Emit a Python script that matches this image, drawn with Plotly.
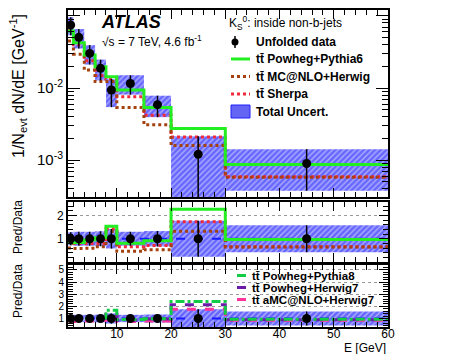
import plotly.graph_objects as go
from plotly.subplots import make_subplots

# ── Data ─────────────────────────────────────────────────────────────────────
edges = [1, 2, 4, 6, 8, 10, 15, 20, 30, 60]
data = [0.075, 0.0506, 0.0303, 0.0188, 0.0094, 0.0116, 0.0059, 0.00121, 0.00090]
unc_rel = [0.28, 0.30, 0.30, 0.32, 0.42, 0.30, 0.33, 0.77, 0.58]

pow_py6 = [0.062, 0.0426, 0.0288, 0.0197, 0.0144, 0.0094, 0.0054, 0.00275, 0.00087]
mcnlo_hw = [0.045, 0.0294, 0.0178, 0.0123, 0.0123, 0.0054, 0.0031, 0.0016, 0.00058]
sherpa = [0.064, 0.040, 0.024, 0.0149, 0.0134, 0.0076, 0.0042, 0.0021, 0.00059]

# newer generators, only shown as ratio to data
r_pow_py8 = [0.92, 1.0, 1.0, 1.05, 1.68, 0.92, 0.97, 2.40, 0.93]
r_pow_hw7 = [0.87, 0.95, 0.95, 1.0, 1.35, 0.86, 0.95, 2.12, 0.90]
r_amc_hw7 = [0.80, 0.76, 0.80, 0.85, 1.28, 0.76, 0.80, 1.75, 0.86]

log_ticks = [1e-3, 1e-2, 1e-1]
log_labels = ["10<sup>-3</sup>", "10<sup>-2</sup>", "10<sup>-1</sup>"]

FONT = "Liberation Sans"
TT = "tt\u0304"

centers = [(a + b) / 2 for a, b in zip(edges[:-1], edges[1:])]
widths = [b - a for a, b in zip(edges[:-1], edges[1:])]


def step(vals):
    return list(vals) + [vals[-1]]


def band(fig, lo, hi, row):
    fig.add_trace(go.Bar(
        x=centers, y=[h - l for l, h in zip(lo, hi)], base=lo, width=widths,
        marker=dict(color="#aaaaff", line_width=0,
                    pattern=dict(shape="/", fgcolor="#2020ff", bgcolor="#aeaeff",
                                 size=4, solidity=0.65)),
        showlegend=False, hoverinfo="skip"), row=row, col=1)


def step_line(fig, vals, color, dash, row, width=3):
    fig.add_trace(go.Scatter(
        x=edges, y=step(vals), mode="lines", line_shape="hv",
        line=dict(color=color, dash=dash, width=width), showlegend=False), row=row, col=1)


def points(fig, vals, errs, row):
    fig.add_trace(go.Scatter(
        x=centers, y=vals, mode="markers",
        marker=dict(color="black", size=9),
        error_y=dict(type="data", array=errs, color="black", thickness=1.5, width=0),
        showlegend=False), row=row, col=1)


fig = make_subplots(rows=3, cols=1, shared_xaxes=True)

# ── Top panel ────────────────────────────────────────────────────────────────
abs_err = [d * r for d, r in zip(data, unc_rel)]
band(fig, [d - e for d, e in zip(data, abs_err)], [d + e for d, e in zip(data, abs_err)], 1)
step_line(fig, sherpa, "#f02a3a", "dot", 1)
step_line(fig, mcnlo_hw, "#a3420f", "dot", 1)
step_line(fig, pow_py6, "#22ee22", "solid", 1)
points(fig, data, abs_err, 1)

# ── Middle ratio panel ───────────────────────────────────────────────────────
ones = [1.0] * len(data)
band(fig, [1 - r for r in unc_rel], [1 + r for r in unc_rel], 2)
step_line(fig, ones, "#1a1aff", "dash", 2, width=2)
step_line(fig, [s / d for s, d in zip(sherpa, data)], "#f02a3a", "dot", 2)
step_line(fig, [m / d for m, d in zip(mcnlo_hw, data)], "#a3420f", "dot", 2)
step_line(fig, [p / d for p, d in zip(pow_py6, data)], "#22ee22", "solid", 2)
points(fig, ones, unc_rel, 2)

# ── Bottom ratio panel ───────────────────────────────────────────────────────
band(fig, [1 - r for r in unc_rel], [1 + r for r in unc_rel], 3)
step_line(fig, ones, "#1a1aff", "dash", 3, width=2)
step_line(fig, r_amc_hw7, "#ff3399", "dash", 3)
step_line(fig, r_pow_hw7, "#6a1ba8", "dash", 3)
step_line(fig, r_pow_py8, "#11cc44", "dashdot", 3)
points(fig, ones, unc_rel, 3)

# ── Axes ─────────────────────────────────────────────────────────────────────
# page coordinates of the frame; the page body adds an 8px offset
OFF = 8
L, R, T, B = 68, 388, 10, 327
W, H = R - L, B - T


def px(x):
    return (x - L) / W


def py(y):
    return (B - y) / H


frame = dict(showline=True, linecolor="black", linewidth=2, mirror="ticks",
             ticks="inside", tickcolor="black", zeroline=False, automargin=False)

xcommon = dict(frame, range=[1, 60], tickvals=[10, 20, 30, 40, 50, 60], ticklen=9,
               tickwidth=1, showgrid=False, ticklabelstandoff=-5,
               minor=dict(dtick=2, tick0=0, ticks="inside", ticklen=5, tickcolor="black"),
               tickfont=dict(family=FONT, size=12, color="black"))
fig.update_xaxes(**xcommon)
fig.update_xaxes(showticklabels=False, row=1, col=1)
fig.update_xaxes(showticklabels=False, row=2, col=1)

minor_log = [k * 10 ** e for e in (-4, -3, -2, -1) for k in range(2, 10)]
fig.update_yaxes(frame, type="log", range=[-3.51, -0.917], row=1, col=1,
                 tickvals=log_ticks, ticktext=log_labels, ticklen=12,
                 minor=dict(tickvals=minor_log, ticks="inside", ticklen=6, tickcolor="black"),
                 showgrid=False, domain=[py(197), 1],
                 tickfont=dict(family=FONT, size=15, color="black"))
fig.update_yaxes(frame, range=[0, 2.58], row=2, col=1, tickvals=[1, 2], ticklen=9,
                 minor=dict(dtick=0.2, ticks="inside", ticklen=5, tickcolor="black"),
                 showgrid=True, gridcolor="#9a9a9a", griddash="dot", gridwidth=1,
                 domain=[py(262), py(202)],
                 tickfont=dict(family=FONT, size=12, color="black"))
fig.update_yaxes(frame, range=[0.3, 5.4], row=3, col=1, tickvals=[1, 2, 3, 4, 5], ticklen=9,
                 minor=dict(dtick=0.2, ticks="inside", ticklen=5, tickcolor="black"),
                 showgrid=True, gridcolor="#9a9a9a", griddash="dot", gridwidth=1,
                 domain=[0, py(265)],
                 tickfont=dict(family=FONT, size=10, color="black"))

# ── Texts ────────────────────────────────────────────────────────────────────
ann = []


def text(x, y, s, size=12, anchor="left", angle=0, bold=False):
    ann.append(dict(x=px(x), y=py(y), xref="paper", yref="paper", text=s, showarrow=False,
                    xanchor=anchor, yanchor="middle", textangle=angle, borderpad=0,
                    font=dict(family=FONT, size=size, color="black",
                              weight="bold" if bold else "normal")))


text(18, 86, "1/N<sub>evt</sub> dN/dE [GeV<sup>-1</sup>]", size=16, anchor="center", angle=-90)
text(18, 227, "Pred/Data", size=12, anchor="center", angle=-90)
text(18, 291, "Pred/Data", size=12, anchor="center", angle=-90)
text(387, 347.5, "E [GeV]", size=12, anchor="right")
text(100, 22, "<i>ATLAS</i>", size=18, bold=True)
text(101, 41, "\u221as = 7 TeV, 4.6 fb<sup>-1</sup>", size=12)

text(228, 23, "K<sub>S</sub><sup>0</sup>: inside non-b-jets", size=12)
top_entries = ["Unfolded data", TT + " Powheg+Pythia6", TT + " MC@NLO+Herwig",
               TT + " Sherpa", "Total Uncert."]
top_y = [42, 59, 76.5, 94, 111.5]
for s, y in zip(top_entries, top_y):
    text(255, y, s, size=12, bold=True)

bot_entries = [TT + " Powheg+Pythia8", TT + " Powheg+Herwig7", TT + " aMC@NLO+Herwig7"]
bot_y = [275.5, 287.5, 299.5]
for s, y in zip(bot_entries, bot_y):
    text(251, y, s, size=11.5, bold=True)

# legend keys
shapes = []


def key_line(y, color, dash, x0, x1):
    shapes.append(dict(type="line", xref="paper", yref="paper", x0=px(x0), x1=px(x1),
                       y0=py(y), y1=py(y), line=dict(color=color, dash=dash, width=3)))


shapes.append(dict(type="circle", xref="paper", yref="paper", x0=px(231.5), x1=px(238.5),
                   y0=py(45.5), y1=py(38.5), fillcolor="black", line_width=0))
shapes.append(dict(type="line", xref="paper", yref="paper", x0=px(235), x1=px(235),
                   y0=py(36), y1=py(48), line=dict(color="black", width=1.5)))
key_line(top_y[1], "#22ee22", "solid", 231, 250)
key_line(top_y[2], "#a3420f", "dot", 231, 250)
key_line(top_y[3], "#f02a3a", "dot", 231, 250)
shapes.append(dict(type="rect", xref="paper", yref="paper", x0=px(231), x1=px(250),
                   y0=py(118), y1=py(105), fillcolor="#6565f4",
                   line=dict(color="#2020ff", width=1)))
key_line(bot_y[0], "#11cc44", "dashdot", 237, 249)
key_line(bot_y[1], "#6a1ba8", "dash", 237, 249)
key_line(bot_y[2], "#ff3399", "dash", 237, 249)

fig.update_layout(
    width=456 - OFF, height=354 - OFF,
    margin=dict(l=L - OFF, r=456 - R, t=T - OFF, b=354 - B, autoexpand=False),
    paper_bgcolor="white", plot_bgcolor="white", barmode="overlay",
    showlegend=False, annotations=ann, shapes=shapes,
    font=dict(family=FONT, color="black"),
)

fig.write_html("out.html")
